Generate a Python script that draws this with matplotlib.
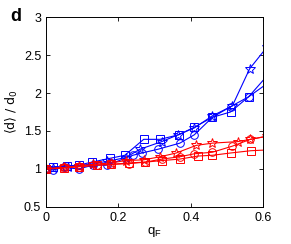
import matplotlib
matplotlib.use('Agg')
import matplotlib.pyplot as plt

plt.rcParams['font.family'] = ['Liberation Sans', 'DejaVu Sans']
plt.rcParams['mathtext.fontset'] = 'custom'
plt.rcParams['mathtext.rm'] = 'Liberation Sans'

# blue series (q_F, <d>/d0)
qb_star = [0.0, 0.02, 0.06, 0.09, 0.13, 0.17, 0.22, 0.26, 0.32, 0.365, 0.41, 0.46, 0.515, 0.563, 0.61]
db_star = [1.0, 1.01, 1.03, 1.04, 1.07, 1.10, 1.15, 1.26, 1.36, 1.45, 1.54, 1.70, 1.83, 2.32, 2.60]
qb_circ = [0.0, 0.02, 0.05, 0.09, 0.13, 0.17, 0.24, 0.265, 0.31, 0.37, 0.41, 0.46, 0.51, 0.56, 0.61]
db_circ = [1.0, 0.99, 1.02, 1.00, 1.05, 1.05, 1.18, 1.21, 1.26, 1.34, 1.45, 1.68, 1.82, 1.95, 2.12]
qb_sq = [0.0, 0.02, 0.058, 0.09, 0.127, 0.177, 0.218, 0.27, 0.315, 0.367, 0.41, 0.46, 0.51, 0.56, 0.61]
db_sq = [1.0, 1.02, 1.04, 1.05, 1.09, 1.14, 1.18, 1.39, 1.39, 1.45, 1.55, 1.68, 1.75, 1.95, 2.22]

# red series
qr_star = [0.0, 0.05, 0.09, 0.13, 0.18, 0.22, 0.27, 0.315, 0.36, 0.415, 0.46, 0.53, 0.565, 0.61]
dr_star = [1.0, 1.02, 1.04, 1.06, 1.08, 1.11, 1.12, 1.16, 1.21, 1.31, 1.34, 1.36, 1.39, 1.43]
qr_circ = [0.0, 0.05, 0.09, 0.14, 0.18, 0.23, 0.275, 0.32, 0.37, 0.41, 0.46, 0.515, 0.565, 0.61]
dr_circ = [1.0, 1.02, 1.03, 1.05, 1.06, 1.07, 1.09, 1.13, 1.16, 1.20, 1.22, 1.30, 1.39, 1.43]
qr_sq = [0.0, 0.05, 0.09, 0.14, 0.18, 0.23, 0.275, 0.32, 0.37, 0.42, 0.46, 0.51, 0.566, 0.61]
dr_sq = [1.0, 1.01, 1.03, 1.05, 1.06, 1.08, 1.09, 1.11, 1.13, 1.17, 1.18, 1.21, 1.24, 1.25]

fig = plt.figure(figsize=(2.91, 2.44), dpi=100)
ax = fig.add_axes([0.158, 0.152, 0.746, 0.778])

style = dict(lw=0.8, mfc='none', mew=0.7)
ax.plot(qb_star, db_star, '-*', color='b', ms=7, **style)
ax.plot(qb_circ, db_circ, '-o', color='b', ms=5.5, **style)
ax.plot(qb_sq, db_sq, '-s', color='b', ms=5.5, **style)
ax.plot(qr_star, dr_star, '-*', color='r', ms=7, **style)
ax.plot(qr_circ, dr_circ, '-o', color='r', ms=5.5, **style)
ax.plot(qr_sq, dr_sq, '-s', color='r', ms=5.5, **style)

ax.set_xlim(0, 0.6)
ax.set_ylim(0.5, 3)
ax.set_xticks([0, 0.2, 0.4, 0.6])
ax.set_xticklabels(['0', '0.2', '0.4', '0.6'])
ax.set_yticks([0.5, 1, 1.5, 2, 2.5, 3])
ax.set_yticklabels(['0.5', '1', '1.5', '2', '2.5', '3'])
ax.tick_params(direction='in', top=True, right=True, labelsize=9, length=3, width=0.6)
for s in ax.spines.values():
    s.set_linewidth(0.7)

ax.set_xlabel(r'q$_\mathregular{F}$', fontsize=9.5, labelpad=1)
ax.set_ylabel('\u27e8d\u27e9 / d$_\\mathregular{0}$', fontsize=9,
              family=['DejaVu Sans'], labelpad=3)
fig.text(0.035, 0.915, 'd', fontsize=13, fontweight='bold')

fig.savefig('out.png', dpi=100)
